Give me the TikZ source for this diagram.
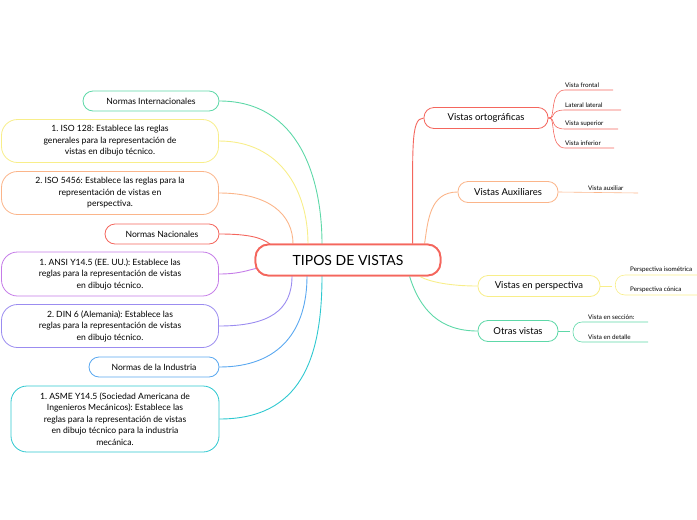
\documentclass[tikz,border=0pt]{standalone}
\usepackage{fontspec}
\setmainfont{Lato}
\usetikzlibrary{positioning}
\frenchspacing
\definecolor{cRed}{HTML}{F4665D}
\definecolor{cOrange}{HTML}{FBB58A}
\definecolor{cYellow}{HTML}{F8EE8A}
\definecolor{cGreen}{HTML}{5ED8A8}
\definecolor{cPurple}{HTML}{C57CE8}
\definecolor{cViolet}{HTML}{9B8CF0}
\definecolor{cBlue}{HTML}{5AA8F0}
\definecolor{cCyan}{HTML}{2EC8D0}
\tikzset{
  topic/.style={draw=#1, line width=0.8pt, rounded corners=10pt, fill=white, font=\fontsize{9.5}{11}\selectfont, minimum height=21pt, inner xsep=4pt},
  note/.style={draw=#1, line width=0.8pt, rounded corners=16pt, fill=white, font=\fontsize{8.6}{11.5}\selectfont, align=center},
  leaf/.style={font=\fontsize{6.3}{7}\selectfont, anchor=south west, inner sep=2pt},
  link/.style={draw=#1, line width=0.9pt}
}
\begin{document}
\begin{tikzpicture}[x=1pt,y=-1pt]
\useasboundingbox (0,0) rectangle (697,520);

% central topic
\node[draw=cRed, line width=1.8pt, rounded corners=13pt, minimum width=185pt, minimum height=31pt, font=\fontsize{14}{16}\selectfont] (root) at (348,260) {TIPOS DE VISTAS};

% right side
\node[topic=cRed, minimum width=124pt] (orto) at (486,118) {Vistas ortográficas};
\node[topic=cOrange, minimum width=100pt] (aux) at (508,192) {Vistas Auxiliares};
\node[topic=cYellow, minimum width=122pt] (pers) at (539,286) {Vistas en perspectiva};
\node[topic=cGreen, minimum width=80pt] (otras) at (518,331) {Otras vistas};

\draw[link=cRed] (root.north west) ++(158,0) .. controls (413,150) and (410,118) .. (orto.west);
\draw[link=cOrange] (root.north west) ++(170,0) .. controls (428,220) and (430,192) .. (aux.west);
\draw[link=cYellow] (root.south west) ++(165,0) .. controls (430,282) and (450,286) .. (pers.west);
\draw[link=cGreen] (root.south west) ++(155,0) .. controls (420,310) and (440,331) .. (otras.west);

% leaves
\coordinate (o1) at (613,90); \coordinate (o2) at (621,110);
\coordinate (o3) at (618,129); \coordinate (o4) at (614,148);
\node[leaf] (lo1) at (563,90) {Vista frontal};
\node[leaf] (lo2) at (563,110) {Lateral lateral};
\node[leaf] (lo3) at (563,129) {Vista superior};
\node[leaf] (lo4) at (563,148) {Vista inferior};
\foreach \y/\e in {90/o1,110/o2,129/o3,148/o4}
  \draw[link=cRed, line width=0.6pt] (orto.east) -- (550,118) .. controls (555,118) and (550,\y) .. (565,\y) -- (\e);

\coordinate (a1) at (638,193);
\node[leaf] (la1) at (586,193) {Vista auxiliar};
\draw[link=cOrange, line width=0.6pt] (aux.east) -- (a1);

\node[leaf] (lp1) at (628,275) {Perspectiva isométrica};
\node[leaf] (lp2) at (628,295) {Perspectiva cónica};
\draw[link=cYellow, line width=0.6pt] (pers.east) -- (612,286);
\draw[link=cYellow, line width=0.6pt] (697,275) -- (625,275) .. controls (612,275) and (612,295) .. (625,295) -- (697,295);

\coordinate (s1) at (648,322); \coordinate (s2) at (648,342);
\node[leaf] (ls1) at (586,322) {Vista en sección:};
\node[leaf] (ls2) at (586,342) {Vista en detalle};
\draw[link=cGreen, line width=0.6pt] (otras.east) -- (570,331);
\draw[link=cGreen, line width=0.6pt] (s1) -- (582,322) .. controls (570,322) and (570,342) .. (582,342) -- (s2);

% left side
\node[topic=cGreen, minimum width=136pt, font=\fontsize{8.6}{10}\selectfont, minimum height=20pt] (inter) at (151,101) {Normas Internacionales};
\node[note=cYellow, minimum width=217pt, minimum height=43pt] (iso1) at (110,141) {1. ISO 128: Establece las reglas\\generales para la representación de\\vistas en dibujo técnico.};
\node[note=cOrange, minimum width=217pt, minimum height=43pt] (iso2) at (110,193) {2. ISO 5456: Establece las reglas para la\\representación de vistas en\\perspectiva.};
\node[topic=cRed, minimum width=114pt, font=\fontsize{8.6}{10}\selectfont, minimum height=20pt] (nac) at (162,234) {Normas Nacionales};
\node[note=cPurple, minimum width=217pt, minimum height=44pt] (ansi) at (110,274) {1. ANSI Y14.5 (EE. UU.): Establece las\\reglas para la representación de vistas\\en dibujo técnico.};
\node[note=cViolet, minimum width=217pt, minimum height=43pt] (din) at (110,326) {2. DIN 6 (Alemania): Establece las\\reglas para la representación de vistas\\en dibujo técnico.};
\node[topic=cBlue, minimum width=130pt, font=\fontsize{8.6}{10}\selectfont, minimum height=20pt] (ind) at (154,367) {Normas de la Industria};
\node[note=cCyan, minimum width=208pt, minimum height=66pt] (asme) at (115,419) {1. ASME Y14.5 (Sociedad Americana de\\Ingenieros Mecánicos): Establece las\\reglas para la representación de vistas\\en dibujo técnico para la industria\\mecánica.};

\draw[link=cGreen] (inter.east) .. controls (300,101) and (322,180) .. (322,244);
\draw[link=cYellow] (iso1.east) .. controls (280,141) and (308,190) .. (308,244);
\draw[link=cOrange] (iso2.east) .. controls (270,193) and (293,215) .. (293,244);
\draw[link=cRed] (nac.east) .. controls (250,234) and (262,238) .. (270,244);
\draw[link=cPurple] (ansi.east) .. controls (240,274) and (248,270) .. (258,268);
\draw[link=cViolet] (din.east) .. controls (270,326) and (292,310) .. (292,276);
\draw[link=cBlue] (ind.east) .. controls (280,367) and (307,330) .. (307,276);
\draw[link=cCyan] (asme.east) .. controls (300,419) and (322,360) .. (322,276);

% redraw root on top
\node[draw=cRed, line width=1.8pt, rounded corners=13pt, fill=white, minimum width=185pt, minimum height=31pt, font=\fontsize{14}{16}\selectfont] at (root) {TIPOS DE VISTAS};
\end{tikzpicture}
\end{document}
